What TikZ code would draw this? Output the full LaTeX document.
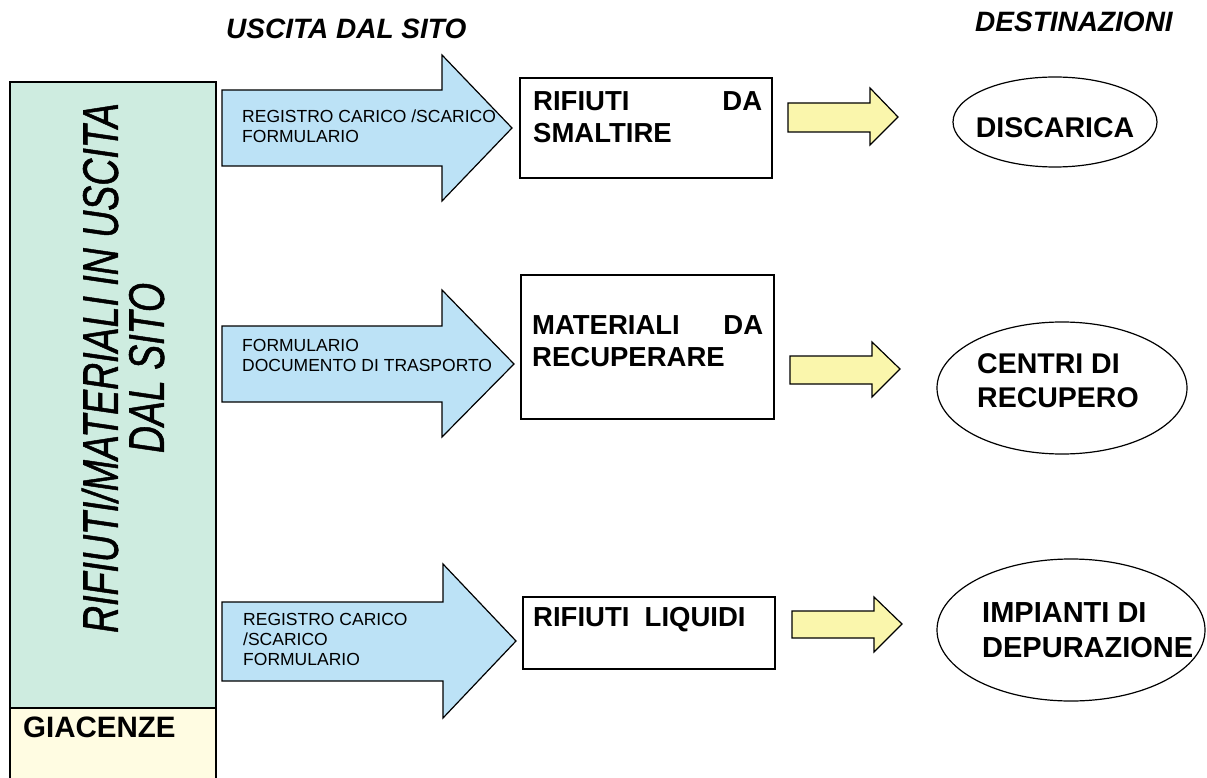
\documentclass[tikz,border=0pt]{standalone}
\usepackage{fontspec}
\setmainfont{Liberation Sans}
\newfontfamily\sidefam[FakeBold=1.2]{Liberation Sans}
\usetikzlibrary{shapes.geometric}
\definecolor{panelgreen}{RGB}{206,236,224}
\definecolor{stockcream}{RGB}{255,252,226}
\definecolor{arrowblue}{RGB}{188,226,246}
\definecolor{arrowyellow}{RGB}{250,246,172}
\newcommand{\sidefont}{\sidefam\fontsize{50}{46}\selectfont\itshape}
\newcommand{\headfont}{\fontsize{28}{32}\selectfont\bfseries\itshape}
\newcommand{\boxfont}{\fontsize{27.5}{32.5}\selectfont\bfseries}
\newcommand{\destfont}{\fontsize{28.5}{34}\selectfont\bfseries}
\newcommand{\arrfont}{\fontsize{17.5}{20}\selectfont}
\tikzset{%
  outline/.style={draw=black, line width=1.2pt, line join=miter},
  bluearr/.style={outline, fill=arrowblue},
  yelarr/.style={outline, fill=arrowyellow},
  wbox/.style={outline, fill=white, inner sep=0pt},
  dest/.style={outline, ellipse, inner sep=0pt},
  arrtxt/.style={font=\arrfont, align=left, inner sep=0pt, anchor=north west},
  boxtxt/.style={font=\boxfont, align=left, inner sep=0pt, anchor=north west},
  desttxt/.style={font=\destfont, align=left, inner sep=0pt},
}
\begin{document}
\begin{tikzpicture}[x=1pt,y=-1pt]%
\useasboundingbox (0,0) rectangle (1207,778);%
% colonna di sinistra
\fill[panelgreen] (10,82) rectangle (216,708);%
\fill[stockcream] (10,708) rectangle (216,800);%
\draw[outline] (10,800) -- (10,82) -- (216,82) -- (216,800);%
\draw[outline] (10,708) -- (216,708);%
\node[rotate=90, align=center, inner sep=0pt, font=\sidefont] (side) at (123,368)
  {\scalebox{.75}[1]{RIFIUTI/MATERIALI IN USCITA}\\\scalebox{.75}[1]{DAL SITO}};%
\node[font=\fontsize{29.5}{34}\selectfont\bfseries, inner sep=0pt, anchor=north west] (giac) at (23,717) {GIACENZE};%
% titoli
\node[font=\headfont, inner sep=0pt, anchor=west] (uscita) at (226,29) {USCITA DAL SITO};%
\node[font=\headfont, inner sep=0pt, anchor=west] (destin) at (975,22) {DESTINAZIONI};%
% frecce blu
\draw[bluearr] (222,90) -- (442,90) -- (442,55) -- (512,128) -- (442,201) -- (442,166) -- (222,166) -- cycle;%
\draw[bluearr] (222,326) -- (442,326) -- (442,290) -- (514,364) -- (442,437) -- (442,402) -- (222,402) -- cycle;%
\draw[bluearr] (222,602) -- (443,602) -- (443,564) -- (516,641) -- (443,718) -- (443,681) -- (222,681) -- cycle;%
\node[arrtxt] (doc1) at (242,110) {REGISTRO CARICO /SCARICO\\FORMULARIO};%
\node[arrtxt] (doc2) at (242,339) {FORMULARIO\\DOCUMENTO DI TRASPORTO};%
\node[arrtxt] (doc3) at (243,613) {REGISTRO CARICO\\/SCARICO\\FORMULARIO};%
% riquadri
\node[wbox, minimum width=252pt, minimum height=100pt] (smalt) at (646,128) {};%
\node[wbox, minimum width=253pt, minimum height=144pt] (recup) at (647.5,347) {};%
\node[wbox, minimum width=252pt, minimum height=72pt] (liquid) at (649,633) {};%
\node[boxtxt, text width=229pt] (smalttxt) at (533,91) {RIFIUTI\hfill DA\\SMALTIRE};%
\node[boxtxt, text width=231pt] (recuptxt) at (532,315) {MATERIALI\hfill DA\\RECUPERARE};%
\node[boxtxt] (liquidtxt) at (533,607) {RIFIUTI\ \ LIQUIDI};%
% frecce gialle
\draw[yelarr] (788,103) -- (870,103) -- (870,88) -- (898,117) -- (870,145) -- (870,132) -- (788,132) -- cycle;%
\draw[yelarr] (790,356) -- (872,356) -- (872,342) -- (900,369) -- (872,397) -- (872,384) -- (790,384) -- cycle;%
\draw[yelarr] (792,611) -- (874,611) -- (874,597) -- (902,624) -- (874,652) -- (874,638) -- (792,638) -- cycle;%
% destinazioni
\node[dest, minimum width=204pt, minimum height=90pt] (disc) at (1055,122) {};%
\node[dest, minimum width=250pt, minimum height=132pt] (centri) at (1062,388) {};%
\node[dest, minimum width=268pt, minimum height=142pt] (impianti) at (1071,630) {};%
\node[desttxt] (disctxt) at (1055,128) {DISCARICA};%
\node[desttxt, anchor=north west] (centritxt) at (977,353) {CENTRI DI\\RECUPERO};%
\node[desttxt, anchor=north west, font=\fontsize{29}{35}\selectfont\bfseries] (impiantitxt) at (982,602) {IMPIANTI DI\\DEPURAZIONE};%
\end{tikzpicture}%
\end{document}
